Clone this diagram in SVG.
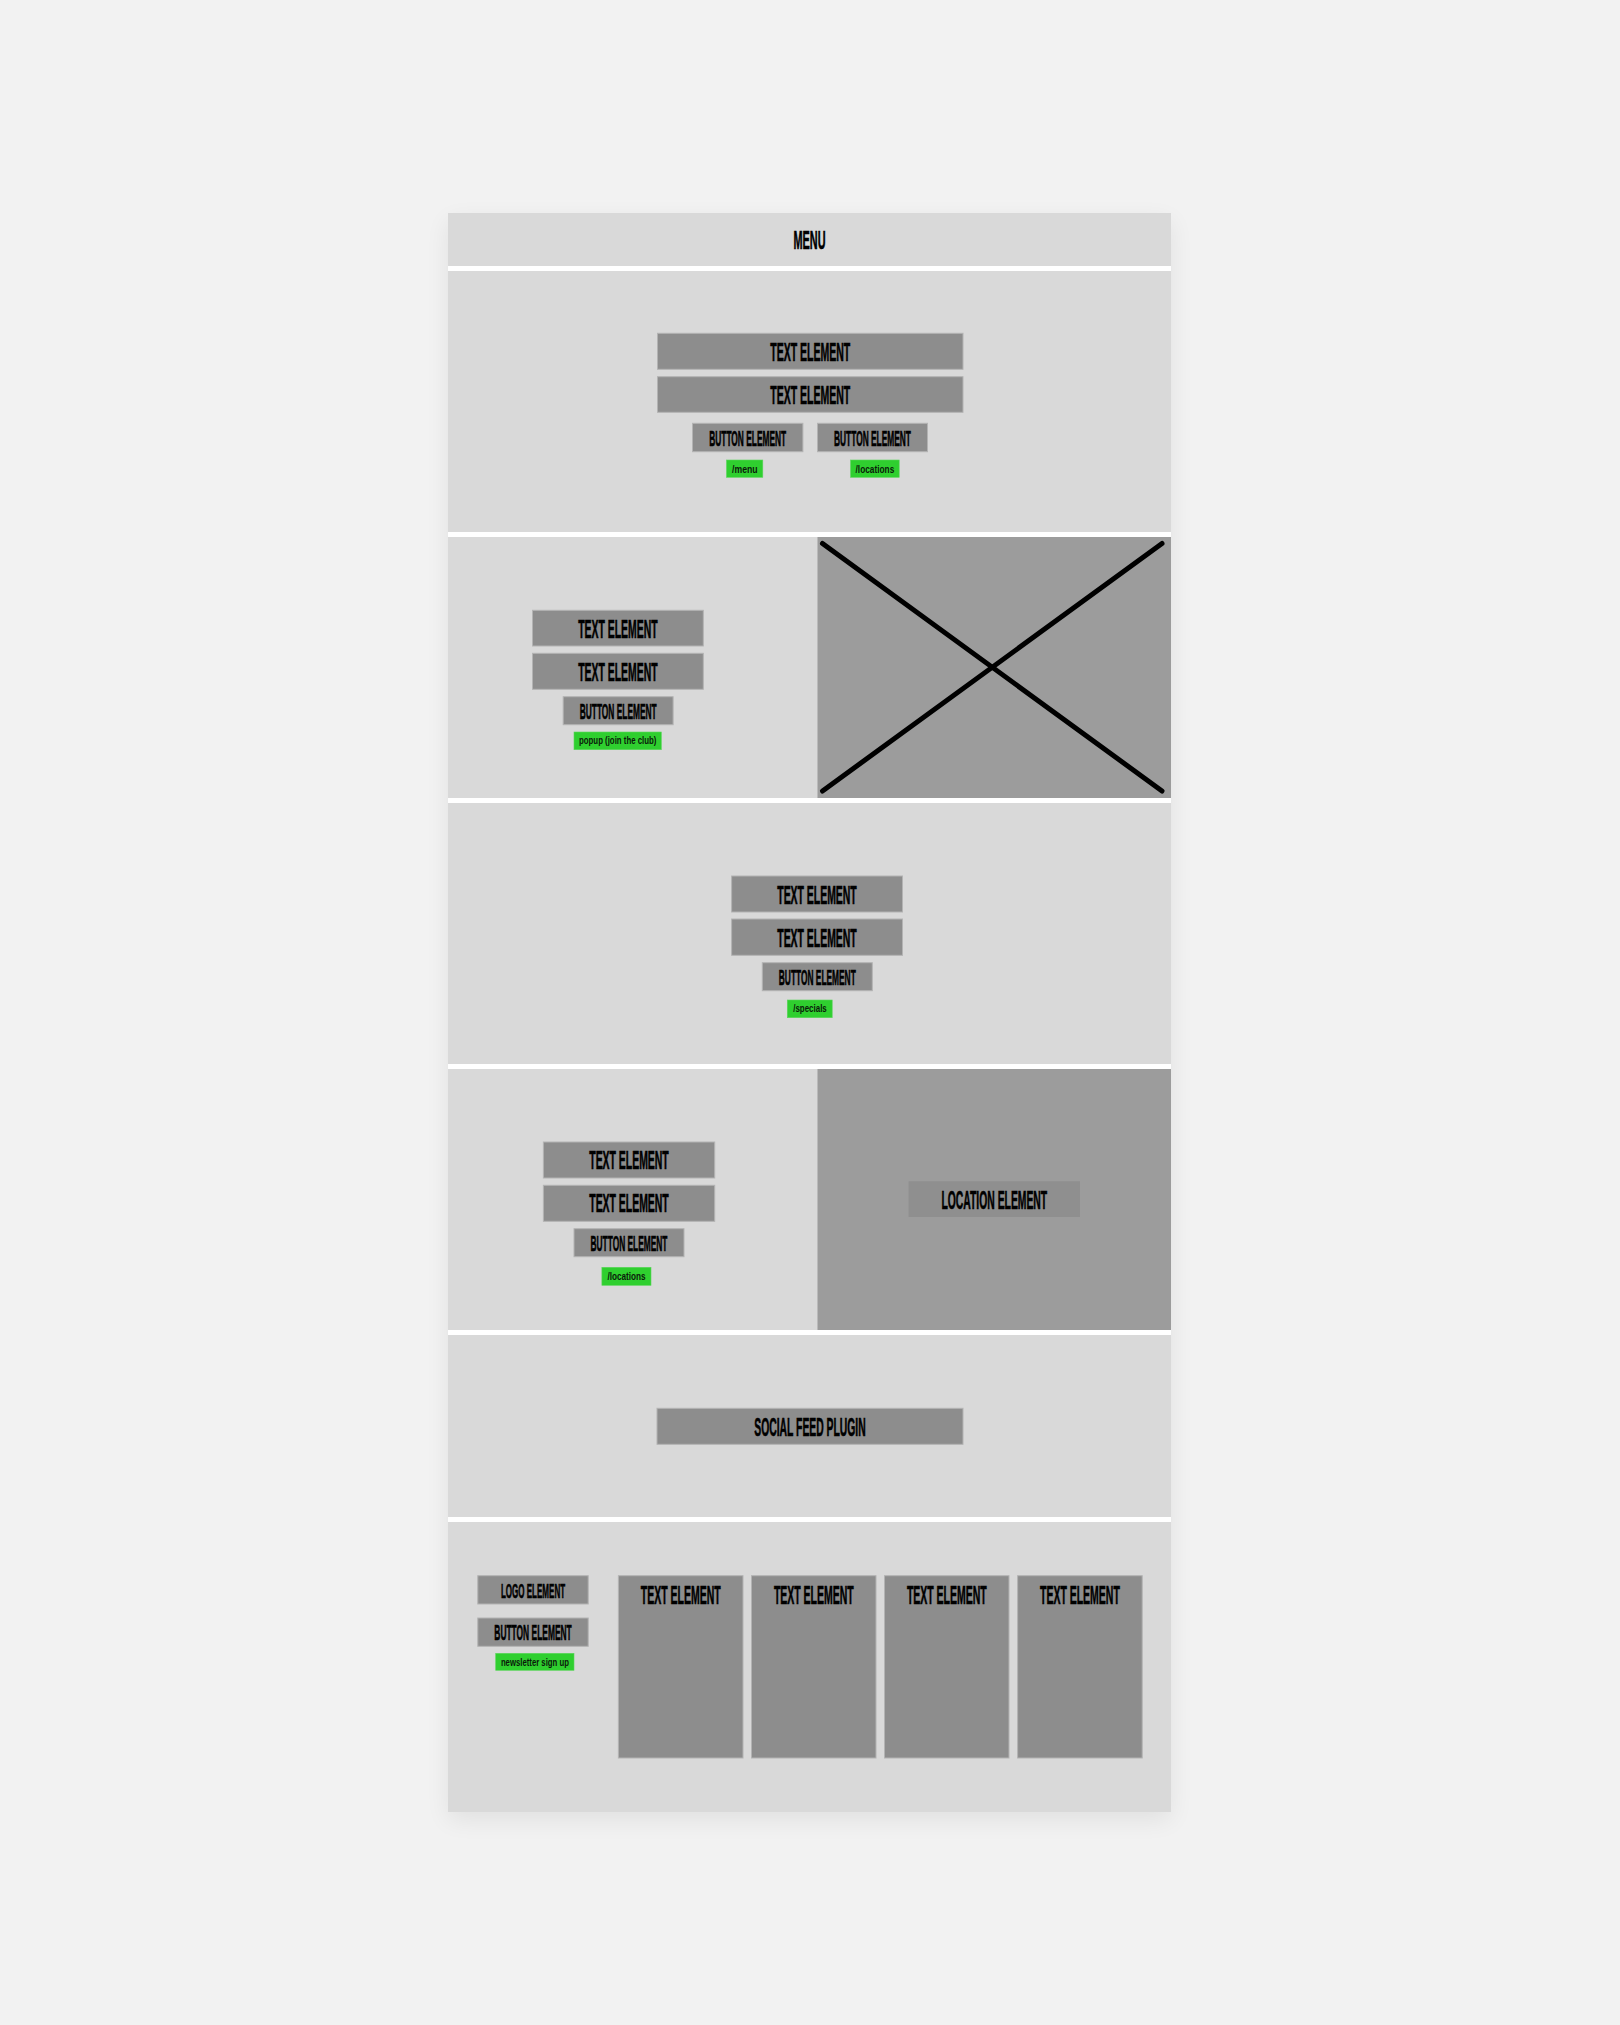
<svg xmlns="http://www.w3.org/2000/svg" width="1620" height="2025" viewBox="0 0 1620 2025">
<style>
.sec{fill:#d9d9d9}
.el{fill:#8d8d8d;stroke:#b3b3b3;stroke-width:1}
.img{fill:#9c9c9c}
.lnk{fill:#2fcf2f;stroke:#5ad65a;stroke-width:0.6}
.t{font-family:"Liberation Sans",Arial,sans-serif;font-weight:bold;fill:#000;stroke:#000;stroke-width:0.6;text-anchor:middle}
.big{font-size:25px}
.btn{font-size:22px}
.g{font-family:"Liberation Sans",Arial,sans-serif;font-weight:bold;font-size:11px;fill:#0a1a0a;text-anchor:middle}
</style>
<defs>
<filter id="sh" x="-10%" y="-10%" width="120%" height="120%">
<feGaussianBlur stdDeviation="12"/>
</filter>
</defs>
<rect width="1620" height="2025" fill="#f2f2f2"/>
<rect x="448" y="221" width="723" height="1599" fill="#000" opacity="0.07" filter="url(#sh)"/>
<rect x="448" y="213" width="723" height="1599" fill="#ffffff"/>

<g id="menu-bar">
<rect class="sec" x="448" y="213" width="723" height="53"/>
<text class="t" font-size="26" transform="translate(809.5,249.3) scale(0.5,1)" textLength="64" lengthAdjust="spacingAndGlyphs">MENU</text>
</g>

<g id="hero">
<rect class="sec" x="448" y="271" width="723" height="261"/>
<g id="hero-text-1"><rect class="el" x="657.5" y="333.3" width="305.5" height="36"/>
<text class="t big" transform="translate(810.2,360.7) scale(0.5,1)" textLength="160" lengthAdjust="spacingAndGlyphs">TEXT ELEMENT</text></g>
<g id="hero-text-2"><rect class="el" x="657.5" y="376.7" width="305.5" height="35.6"/>
<text class="t big" transform="translate(810.2,403.7) scale(0.5,1)" textLength="160" lengthAdjust="spacingAndGlyphs">TEXT ELEMENT</text></g>
<g id="hero-button-1"><rect class="el" x="692.5" y="423.3" width="110.4" height="28.4"/>
<text class="t btn" transform="translate(747.7,445.7) scale(0.45,1)" textLength="171" lengthAdjust="spacingAndGlyphs">BUTTON ELEMENT</text></g>
<g id="hero-button-2"><rect class="el" x="817.5" y="423.3" width="110" height="28.4"/>
<text class="t btn" transform="translate(872.5,445.7) scale(0.45,1)" textLength="171" lengthAdjust="spacingAndGlyphs">BUTTON ELEMENT</text></g>
<g id="link-menu"><rect class="lnk" x="726.5" y="460" width="36.3" height="17.3"/>
<text class="g" x="744.8" y="472.7" textLength="25.5" lengthAdjust="spacingAndGlyphs">/menu</text></g>
<g id="link-locations-1"><rect class="lnk" x="850.6" y="460" width="48.6" height="17.3"/>
<text class="g" x="874.9" y="472.7" textLength="38.7" lengthAdjust="spacingAndGlyphs">/locations</text></g>
</g>

<g id="section-2">
<rect class="sec" x="448" y="537" width="723" height="261"/>
<g id="image-placeholder">
<rect class="img" x="817.5" y="537" width="353.5" height="261"/>
<line x1="822.5" y1="543.5" x2="1162" y2="791" stroke="#000" stroke-width="5" stroke-linecap="round"/>
<line x1="1162" y1="543.5" x2="822.5" y2="791" stroke="#000" stroke-width="5" stroke-linecap="round"/>
</g>
<g id="s2-text-1"><rect class="el" x="532.5" y="610.3" width="170.8" height="35.7"/>
<text class="t big" transform="translate(617.9,637.5) scale(0.5,1)" textLength="158.6" lengthAdjust="spacingAndGlyphs">TEXT ELEMENT</text></g>
<g id="s2-text-2"><rect class="el" x="532.5" y="653.3" width="170.8" height="36"/>
<text class="t big" transform="translate(617.9,680.5) scale(0.5,1)" textLength="158.6" lengthAdjust="spacingAndGlyphs">TEXT ELEMENT</text></g>
<g id="s2-button"><rect class="el" x="563.2" y="696.7" width="109.9" height="28"/>
<text class="t btn" transform="translate(618.2,718.7) scale(0.45,1)" textLength="171" lengthAdjust="spacingAndGlyphs">BUTTON ELEMENT</text></g>
<g id="link-popup"><rect class="lnk" x="574" y="732" width="87.3" height="17.7"/>
<text class="g" x="617.7" y="744.3" textLength="77.4" lengthAdjust="spacingAndGlyphs">popup (join the club)</text></g>
</g>

<g id="section-3">
<rect class="sec" x="448" y="803" width="723" height="261"/>
<g id="s3-text-1"><rect class="el" x="731.6" y="876" width="170.9" height="36"/>
<text class="t big" transform="translate(817,903.7) scale(0.5,1)" textLength="159" lengthAdjust="spacingAndGlyphs">TEXT ELEMENT</text></g>
<g id="s3-text-2"><rect class="el" x="731.6" y="919" width="170.9" height="36.3"/>
<text class="t big" transform="translate(817,946.6) scale(0.5,1)" textLength="159" lengthAdjust="spacingAndGlyphs">TEXT ELEMENT</text></g>
<g id="s3-button"><rect class="el" x="762.3" y="962.7" width="110" height="28"/>
<text class="t btn" transform="translate(817.3,984.5) scale(0.45,1)" textLength="171" lengthAdjust="spacingAndGlyphs">BUTTON ELEMENT</text></g>
<g id="link-specials"><rect class="lnk" x="787.3" y="1000" width="44.9" height="17.7"/>
<text class="g" x="810" y="1012.3" textLength="33.5" lengthAdjust="spacingAndGlyphs">/specials</text></g>
</g>

<g id="section-4">
<rect class="sec" x="448" y="1069" width="723" height="261"/>
<rect class="img" x="817.5" y="1069" width="353.5" height="261"/>
<g id="location-element"><rect x="908.6" y="1181.3" width="171.4" height="35.7" fill="#8f8f8f"/>
<text class="t big" transform="translate(994.3,1208.7) scale(0.5,1)" textLength="211.4" lengthAdjust="spacingAndGlyphs">LOCATION ELEMENT</text></g>
<g id="s4-text-1"><rect class="el" x="543.4" y="1142" width="171.3" height="36"/>
<text class="t big" transform="translate(629,1169) scale(0.5,1)" textLength="159" lengthAdjust="spacingAndGlyphs">TEXT ELEMENT</text></g>
<g id="s4-text-2"><rect class="el" x="543.4" y="1185.3" width="171.3" height="36"/>
<text class="t big" transform="translate(629,1212.3) scale(0.5,1)" textLength="159" lengthAdjust="spacingAndGlyphs">TEXT ELEMENT</text></g>
<g id="s4-button"><rect class="el" x="574" y="1228.7" width="110" height="28"/>
<text class="t btn" transform="translate(629,1250.7) scale(0.45,1)" textLength="171" lengthAdjust="spacingAndGlyphs">BUTTON ELEMENT</text></g>
<g id="link-locations-2"><rect class="lnk" x="601.9" y="1267.3" width="49.1" height="18"/>
<text class="g" x="626.5" y="1280" textLength="38.2" lengthAdjust="spacingAndGlyphs">/locations</text></g>
</g>

<g id="section-5">
<rect class="sec" x="448" y="1335" width="723" height="182"/>
<g id="social-feed"><rect class="el" x="657" y="1408.3" width="306" height="36"/>
<text class="t big" transform="translate(810,1436) scale(0.5,1)" textLength="222.8" lengthAdjust="spacingAndGlyphs">SOCIAL FEED PLUGIN</text></g>
</g>

<g id="footer">
<rect class="sec" x="448" y="1522" width="723" height="290"/>
<g id="logo-element"><rect class="el" x="477.8" y="1575.7" width="110.4" height="28.3"/>
<text class="t" font-size="21" transform="translate(533,1597.7) scale(0.45,1)" textLength="142.7" lengthAdjust="spacingAndGlyphs">LOGO ELEMENT</text></g>
<g id="footer-button"><rect class="el" x="477.8" y="1618" width="110.4" height="28.3"/>
<text class="t btn" transform="translate(533,1640) scale(0.45,1)" textLength="172" lengthAdjust="spacingAndGlyphs">BUTTON ELEMENT</text></g>
<g id="link-newsletter"><rect class="lnk" x="495.7" y="1653.3" width="78.3" height="17"/>
<text class="g" x="534.9" y="1666" textLength="68" lengthAdjust="spacingAndGlyphs">newsletter sign up</text></g>
<g id="col-1"><rect class="el" x="618.4" y="1575.7" width="124.6" height="182.3"/>
<text class="t big" transform="translate(680.7,1603.7) scale(0.5,1)" textLength="159.6" lengthAdjust="spacingAndGlyphs">TEXT ELEMENT</text></g>
<g id="col-2"><rect class="el" x="751.5" y="1575.7" width="124.5" height="182.3"/>
<text class="t big" transform="translate(813.8,1603.7) scale(0.5,1)" textLength="159.6" lengthAdjust="spacingAndGlyphs">TEXT ELEMENT</text></g>
<g id="col-3"><rect class="el" x="884.5" y="1575.7" width="124.5" height="182.3"/>
<text class="t big" transform="translate(946.8,1603.7) scale(0.5,1)" textLength="159.6" lengthAdjust="spacingAndGlyphs">TEXT ELEMENT</text></g>
<g id="col-4"><rect class="el" x="1017.6" y="1575.7" width="124.6" height="182.3"/>
<text class="t big" transform="translate(1079.9,1603.7) scale(0.5,1)" textLength="159.6" lengthAdjust="spacingAndGlyphs">TEXT ELEMENT</text></g>
</g>
<g id="connectors"/>
</svg>
